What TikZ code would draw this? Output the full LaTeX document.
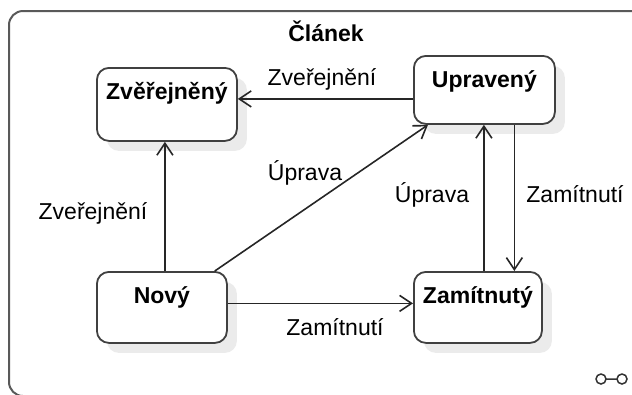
\documentclass[tikz,border=0pt]{standalone}
\usepackage{fontspec}
\setmainfont{Liberation Sans}
\usepackage{tikz}
\usetikzlibrary{arrows.meta,shadows}

\begin{document}
\begin{tikzpicture}[
    x=1bp, y=-1bp,
    >={Straight Barb[length=12bp,width=16bp]},
    frame/.style={draw=black!65, line width=2bp, rounded corners=14bp},
    state/.style={draw=black!75,
                  line width=1.8bp,
                  fill=white,
                  rounded corners=12bp,
                  anchor=north west,
                  font=\fontsize{23bp}{27bp}\selectfont\bfseries,
                  inner xsep=0pt,
                  inner ysep=15bp,
                  text height=17bp,
                  text depth=24bp,
                  drop shadow={shadow xshift=10bp, shadow yshift=-10bp,
                               fill=black!8, opacity=1}},
    edge/.style={->, draw=black!85, line width=1.6bp},
    lbl/.style={anchor=base, inner sep=0pt},
    every node/.style={font=\fontsize{23bp}{27bp}\selectfont}]

    \useasboundingbox (0,0) rectangle (632,394);
    \clip (0,0) rectangle (632,394);

    \draw[frame] (9,11) rectangle (660,396);
    \node[lbl, font=\fontsize{23bp}{27bp}\selectfont\bfseries] (title) at (326,41) {Článek};

    \node[state, minimum width=140bp, text depth=26bp, inner ysep=15bp] (zver) at (96,67) {Zvěřejněný};
    \node[state, minimum width=141bp, text depth=22bp, inner ysep=14.5bp] (uprav) at (413,55) {Upravený};
    \node[state, minimum width=130bp] (novy) at (96,271) {Nový};
    \node[state, minimum width=128bp] (zam) at (413,271) {Zamítnutý};

    \draw[edge] ([yshift=-9bp]uprav.west) -- ([yshift=-9bp]uprav.west -| zver.east);
    \draw[edge] ([xshift=3bp]novy.north) -- ([xshift=3bp]novy.north |- zver.south);
    \draw[edge] ([xshift=-13bp]novy.north east) -- ([xshift=15bp]uprav.south west);
    \draw[edge] ([yshift=4bp]novy.east) -- ([yshift=4bp]novy.east -| zam.west);
    \draw[edge] ([xshift=6bp]zam.north) -- ([xshift=6bp]zam.north |- uprav.south);
    \draw[edge] ([xshift=30bp]uprav.south) -- ([xshift=30bp]uprav.south |- zam.north);

    \node[lbl] (l1) at (322,85) {Zveřejnění};
    \node[lbl] (l2) at (305,180) {Úprava};
    \node[lbl] (l3) at (432,202) {Úprava};
    \node[lbl] (l4) at (575,202) {Zamítnutí};
    \node[lbl] (l5) at (93,219) {Zveřejnění};
    \node[lbl] (l6) at (335,335) {Zamítnutí};

    % link icon
    \draw[black!80, line width=1.5bp] (601,379) circle (5) (606,379) -- (617,379) (622,379) circle (5);

\end{tikzpicture}
\end{document}
